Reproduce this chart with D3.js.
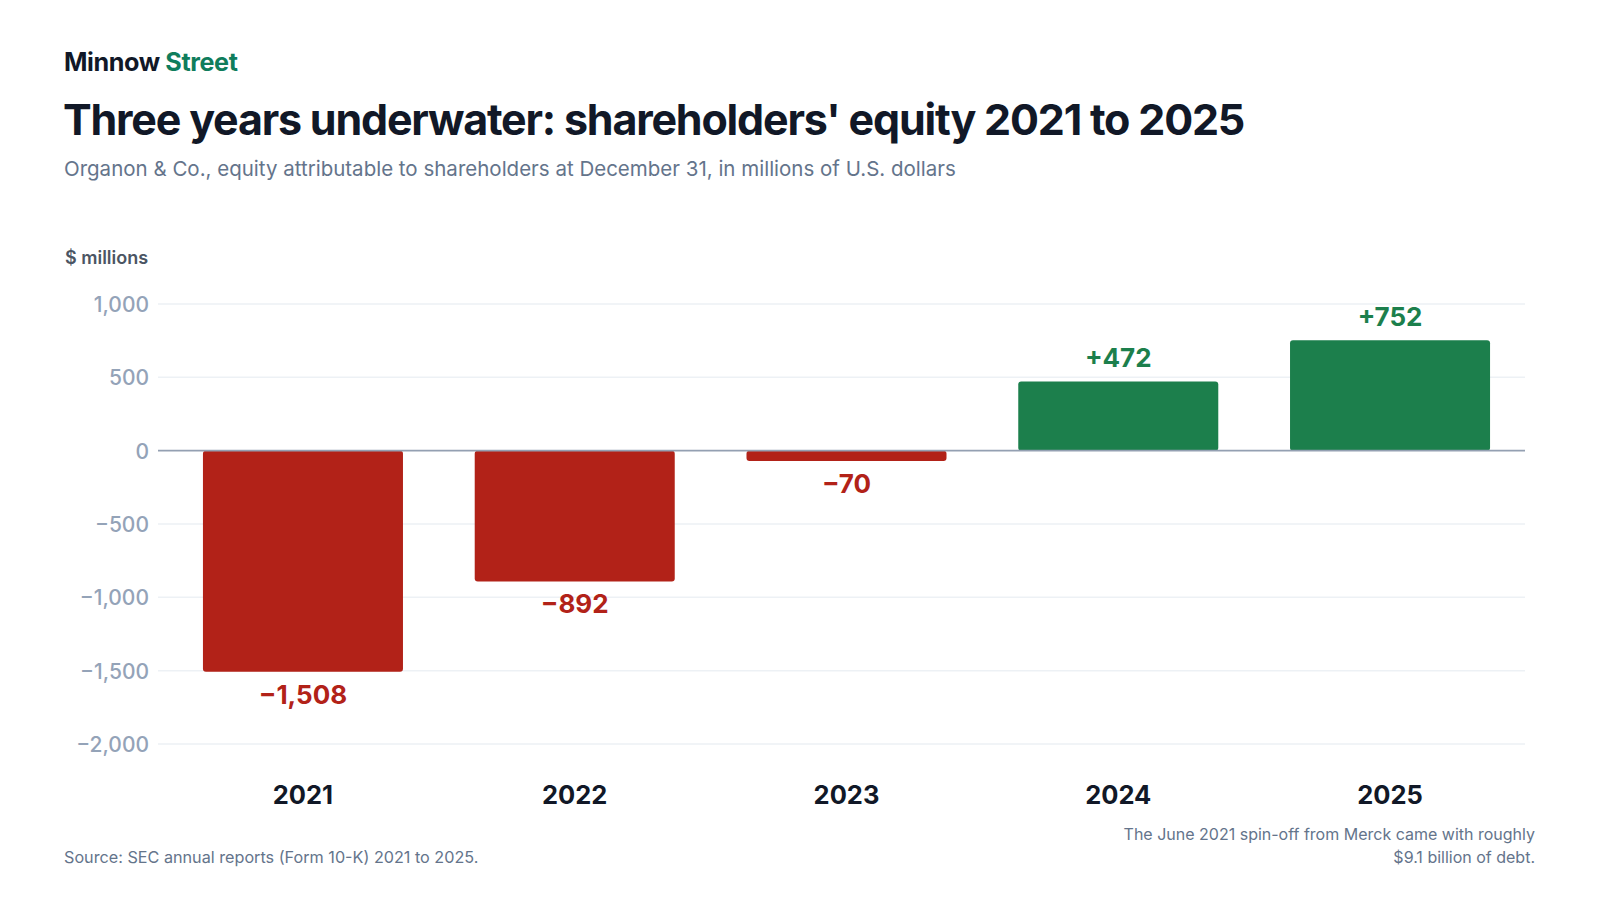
<!DOCTYPE html>
<html><head><meta charset="utf-8">
<script src="https://cdn.jsdelivr.net/npm/d3@7"></script>
<style>
html,body{margin:0;padding:0;background:#fff;}
svg{display:block;font-family:Inter,"Noto Sans",sans-serif;}
</style></head>
<body><svg id="c" width="1600" height="900"></svg>
<script>
const years = ["2021","2022","2023","2024","2025"];
const equity = [-1508, -892, -70, 472, 752];
const yTicks = [1000, 500, 0, -500, -1000, -1500, -2000];

const svg = d3.select("#c");
const fmt = d3.format(",");
const minus = v => (v < 0 ? "\u2212" + fmt(-v) : fmt(v));
const lab = v => (v < 0 ? "\u2212" + fmt(-v) : "+" + fmt(v));

// header
const brand = svg.append("text").attr("x", 64).attr("y", 71)
  .attr("font-size", 25.2).attr("font-weight", 700).attr("letter-spacing", -0.4);
brand.append("tspan").attr("fill", "#111827").text("Minnow ");
brand.append("tspan").attr("fill", "#0f7d5c").text("Street");

svg.append("text").attr("x", 63).attr("y", 135).attr("font-size", 43)
  .attr("font-weight", 700).attr("fill", "#111827").attr("letter-spacing", -1.2)
  .text("Three years underwater: shareholders' equity 2021 to 2025");

svg.append("text").attr("x", 64).attr("y", 176).attr("font-size", 20.5)
  .attr("fill", "#64748b")
  .text("Organon & Co., equity attributable to shareholders at December 31, in millions of U.S. dollars");

svg.append("text").attr("x", 65).attr("y", 264).attr("font-size", 18)
  .attr("font-weight", 600).attr("fill", "#4b5563").text("$ millions");

// scales
const y = d3.scaleLinear().domain([-2000, 1000]).range([744, 304]);
const x = d3.scaleBand().domain(years).range([163, 1530]).paddingInner(0.264).paddingOuter(0.147);
const gx0 = 158, gx1 = 1525;

// grid
svg.append("g").selectAll("line").data(yTicks.filter(d => d !== 0)).join("line")
  .attr("x1", gx0).attr("x2", gx1).attr("y1", d => y(d)).attr("y2", d => y(d))
  .attr("stroke", "#edf1f5").attr("stroke-width", 1.5);

// y axis labels
const yAxis = d3.axisLeft(y).tickValues(yTicks).tickSize(0).tickPadding(0).tickFormat(minus);
const ya = svg.append("g").attr("transform", `translate(149,0)`).call(yAxis);
ya.select(".domain").remove();
ya.selectAll("text").attr("font-family", "Inter").attr("font-size", 21).attr("font-weight", 500)
  .attr("fill", "#94a3b8").attr("dy", "0.36em");

// bars
const data = years.map((yr, i) => ({ yr, v: equity[i] }));
const red = "#b22218", green = "#1c7f4c";
svg.append("g").selectAll("rect").data(data).join("rect")
  .attr("x", d => x(d.yr)).attr("width", x.bandwidth())
  .attr("y", d => Math.min(y(d.v), y(0)))
  .attr("height", d => Math.abs(y(d.v) - y(0)))
  .attr("rx", 3).attr("fill", d => d.v < 0 ? red : green);

// zero line
svg.append("line").attr("x1", gx0).attr("x2", gx1).attr("y1", y(0)).attr("y2", y(0))
  .attr("stroke", "#94a0b2").attr("stroke-width", 1.6);

// value labels
svg.append("g").selectAll("text").data(data).join("text")
  .attr("x", d => x(d.yr) + x.bandwidth() / 2)
  .attr("y", d => d.v < 0 ? y(d.v) + 32 : y(d.v) - 14)
  .attr("text-anchor", "middle").attr("font-size", 26).attr("font-weight", 700)
  .attr("fill", d => d.v < 0 ? red : green).text(d => lab(d.v));

// x axis labels
const xAxis = d3.axisBottom(x).tickSize(0).tickPadding(0);
const xa = svg.append("g").attr("transform", "translate(0,786)").call(xAxis);
xa.select(".domain").remove();
xa.selectAll("text").attr("font-family", "Inter").attr("font-size", 25.5).attr("font-weight", 700)
  .attr("fill", "#111827").attr("dy", "0.72em");

// footer
svg.append("text").attr("x", 64).attr("y", 863).attr("font-size", 16.2).attr("fill", "#64748b")
  .text("Source: SEC annual reports (Form 10-K) 2021 to 2025.");
const note = svg.append("text").attr("text-anchor", "end").attr("font-size", 16).attr("fill", "#64748b");
note.append("tspan").attr("x", 1535).attr("y", 840).text("The June 2021 spin-off from Merck came with roughly");
note.append("tspan").attr("x", 1535).attr("y", 863).text("$9.1 billion of debt.");
</script></body></html>
